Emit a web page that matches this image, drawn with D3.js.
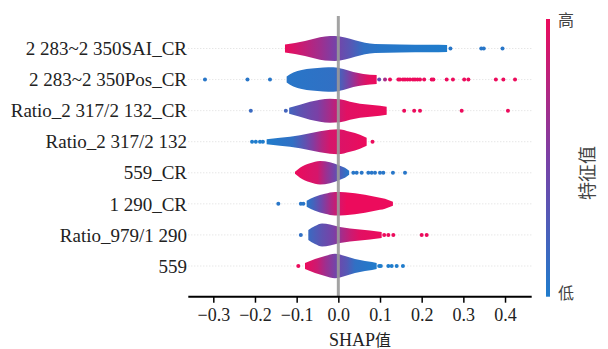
<!DOCTYPE html>
<html>
<head>
<meta charset="utf-8">
<script src="https://cdn.jsdelivr.net/npm/d3@7"></script>
<style>
  body { margin: 0; background: #fff; }
  svg { display: block; }
</style>
</head>
<body>
<svg id="chart" width="608" height="349"></svg>
<script>
// Features, top to bottom
const features = [
  '2 283~2 350SAI_CR',
  '2 283~2 350Pos_CR',
  'Ratio_2 317/2 132_CR',
  'Ratio_2 317/2 132',
  '559_CR',
  '1 290_CR',
  'Ratio_979/1 290',
  '559'
];

const xTicks = [-0.3, -0.2, -0.1, 0.0, 0.1, 0.2, 0.3, 0.4];

// violin outline: [shap value, relative density]
const violinSAI = [[-0.128,0.32],[-0.104,0.44],[-0.080,0.6],[-0.056,0.8],[-0.032,0.96],[-0.008,1.0],[0.016,0.88],[0.040,0.66],[0.064,0.46],[0.088,0.36],[0.148,0.32],[0.220,0.30],[0.261,0.28]];
const violinPos = [[-0.124,0.24],[-0.108,0.56],[-0.088,0.76],[-0.064,0.88],[-0.036,0.96],[-0.012,0.98],[0.012,0.84],[0.036,0.6],[0.060,0.45],[0.092,0.36]];
const violinRatioCR = [[-0.118,0.24],[-0.092,0.48],[-0.068,0.72],[-0.044,0.88],[-0.020,0.96],[0.004,0.92],[0.028,0.72],[0.052,0.56],[0.076,0.48],[0.100,0.4],[0.116,0.32]];
const violinRatio = [[-0.172,0.2],[-0.140,0.32],[-0.116,0.4],[-0.092,0.52],[-0.068,0.68],[-0.044,0.84],[-0.020,0.96],[-0.001,1.0],[0.028,0.8],[0.052,0.56],[0.068,0.32]];
const violin559CR = [[-0.104,0.08],[-0.092,0.4],[-0.068,0.76],[-0.044,0.94],[-0.020,0.84],[0.004,0.56],[0.016,0.4],[0.026,0.16]];
const violin1290CR = [[-0.076,0.24],[-0.056,0.56],[-0.032,0.8],[-0.008,0.94],[0.016,0.92],[0.040,0.84],[0.064,0.72],[0.088,0.56],[0.112,0.4],[0.131,0.16]];
const violin979 = [[-0.072,0.4],[-0.056,0.72],[-0.039,0.92],[-0.020,0.84],[0.004,0.64],[0.028,0.52],[0.052,0.44],[0.076,0.36],[0.104,0.24]];
const violin559 = [[-0.080,0.24],[-0.056,0.56],[-0.032,0.8],[-0.008,0.98],[0.016,0.8],[0.040,0.56],[0.064,0.4],[0.081,0.32],[0.092,0.24]];

// mean feature value along shap axis: [shap value, feature value 0..1]
const colorSAI = [[-0.128,1.0],[-0.09,0.85],[-0.04,0.65],[-0.01,0.5],[0.03,0.3],[0.06,0.1],[0.1,0.05],[0.261,0.0]];
const colorPos = [[-0.124,0.05],[-0.01,0.1],[0.01,0.3],[0.03,0.55],[0.05,0.8],[0.07,0.95],[0.092,1.0]];
const colorRatioCR = [[-0.118,0.2],[-0.09,0.35],[-0.05,0.5],[-0.02,0.7],[0.0,0.85],[0.02,0.95],[0.116,1.0]];
const colorRatio = [[-0.172,0.0],[-0.11,0.1],[-0.08,0.35],[-0.06,0.55],[-0.04,0.75],[-0.02,0.9],[0.068,1.0]];
const color559CR = [[-0.104,1.0],[-0.05,0.9],[-0.03,0.65],[-0.01,0.45],[0.005,0.25],[0.02,0.08],[0.026,0.05]];
const color1290CR = [[-0.076,0.05],[-0.06,0.2],[-0.04,0.45],[-0.02,0.7],[0.0,0.9],[0.02,1.0],[0.131,1.0]];
const color979 = [[-0.072,0.15],[-0.04,0.35],[-0.01,0.5],[0.01,0.7],[0.03,0.85],[0.05,0.95],[0.104,1.0]];
const color559 = [[-0.08,1.0],[-0.05,0.85],[-0.03,0.65],[-0.005,0.45],[0.02,0.3],[0.04,0.1],[0.092,0.0]];

// outlier points: [shap value, feature value]
const dotsSAI = [[0.269,0.05],[0.343,0.05],[0.349,0.05],[0.394,0.05]];
const dotsPos = [[-0.320,0.05],[-0.218,0.05],[-0.164,0.05],[0.098,0.4],[0.112,0.7],[0.124,1],[0.144,1],[0.148,1],[0.155,1],[0.160,1],[0.166,1],[0.172,1],[0.179,1],[0.184,1],[0.190,1],[0.196,1],[0.206,1],[0.224,1],[0.228,1],[0.260,1],[0.275,1],[0.302,1],[0.312,1],[0.378,1],[0.396,1],[0.424,1]];
const dotsRatioCR = [[-0.210,0.15],[-0.126,0.2],[0.158,1],[0.182,1],[0.196,1],[0.296,1],[0.407,1]];
const dotsRatio = [[-0.207,0.0],[-0.198,0.0],[-0.188,0.0],[-0.181,0.0],[0.082,1]];
const dots559CR = [[0.036,0.05],[0.044,0.05],[0.056,0.05],[0.072,0.05],[0.080,0.05],[0.088,0.05],[0.100,0.05],[0.108,0.05],[0.131,0.05],[0.160,0.05]];
const dots1290CR = [[-0.144,0.05],[-0.090,0.05],[-0.084,0.05]];
const dots979 = [[-0.090,0.1],[0.110,1],[0.120,1],[0.132,1],[0.200,1],[0.212,1]];
const dots559 = [[-0.096,1],[0.098,0],[0.102,0],[0.120,0],[0.128,0],[0.140,0],[0.155,0]];

const violins = [violinSAI, violinPos, violinRatioCR, violinRatio, violin559CR, violin1290CR, violin979, violin559];
const colorProfiles = [colorSAI, colorPos, colorRatioCR, colorRatio, color559CR, color1290CR, color979, color559];
const outliers = [dotsSAI, dotsPos, dotsRatioCR, dotsRatio, dots559CR, dots1290CR, dots979, dots559];

const svg = d3.select('#chart');
const serif = '"Liberation Serif", "Times New Roman", serif';
const cjk = '"Noto Sans CJK SC", sans-serif';

const x = d3.scaleLinear().domain([-0.36, 0.464]).range([188.3, 531.7]);
const y = d3.scalePoint().domain(features).range([48.5, 266]);
const hw = d3.scaleLinear().domain([0, 1]).range([0, 12.5]);
const color = d3.scaleLinear().domain([0, 0.5, 1])
  .range(['#1f7ccc', '#7a40a6', '#ec0b5c'])
  .interpolate(d3.interpolateRgb);

const axisY = 296.7;

// faint dotted row guides
svg.append('g')
  .selectAll('line')
  .data(features)
  .join('line')
  .attr('x1', x.range()[0])
  .attr('x2', x.range()[1])
  .attr('y1', d => y(d))
  .attr('y2', d => y(d))
  .attr('stroke', '#dcdcdc')
  .attr('stroke-width', 1)
  .attr('stroke-dasharray', '1,2');

const defs = svg.append('defs');

features.forEach((f, i) => {
  const cy = y(f);
  const prof = colorProfiles[i];
  const grad = defs.append('linearGradient')
    .attr('id', 'vg' + i)
    .attr('gradientUnits', 'userSpaceOnUse')
    .attr('x1', x(prof[0][0])).attr('x2', x(prof[prof.length - 1][0]))
    .attr('y1', 0).attr('y2', 0);
  const span = prof[prof.length - 1][0] - prof[0][0];
  grad.selectAll('stop')
    .data(prof)
    .join('stop')
    .attr('offset', d => (d[0] - prof[0][0]) / span)
    .attr('stop-color', d => color(d[1]));

  const area = d3.area()
    .x(d => x(d[0]))
    .y0(d => cy - hw(d[1]))
    .y1(d => cy + hw(d[1]))
    .curve(d3.curveMonotoneX);

  svg.append('path')
    .datum(violins[i])
    .attr('d', area)
    .attr('fill', `url(#vg${i})`);

  svg.append('g')
    .selectAll('circle')
    .data(outliers[i])
    .join('circle')
    .attr('cx', d => x(d[0]))
    .attr('cy', cy)
    .attr('r', 2)
    .attr('fill', d => color(d[1]));
});

// zero line, over the violins
svg.append('line')
  .attr('x1', x(0)).attr('x2', x(0))
  .attr('y1', 16).attr('y2', axisY)
  .attr('stroke', '#999')
  .attr('stroke-opacity', 0.9)
  .attr('stroke-width', 3);

// x axis
const xAxis = svg.append('g')
  .attr('transform', `translate(0,${axisY})`)
  .call(d3.axisBottom(x).tickValues(xTicks).tickFormat(d3.format('.1f')).tickSize(6).tickPadding(6));
xAxis.select('.domain').attr('stroke', '#000').attr('stroke-width', 2).attr('d', `M${x.range()[0]},0H${x.range()[1]}`);
xAxis.selectAll('.tick line').attr('stroke', '#000').attr('stroke-width', 1.5);
xAxis.selectAll('.tick text')
  .attr('fill', '#222')
  .attr('font-family', serif)
  .attr('font-size', 18);

svg.append('text')
  .attr('x', 360)
  .attr('y', 345.5)
  .attr('text-anchor', 'middle')
  .attr('fill', '#222')
  .attr('font-size', 17)
  .call(t => {
    t.append('tspan').attr('font-family', serif).attr('font-size', 18).text('SHAP');
    t.append('tspan').attr('font-family', cjk).attr('font-size', 16).text('值');
  });

// feature labels
svg.append('g')
  .selectAll('text')
  .data(features)
  .join('text')
  .attr('x', 187)
  .attr('y', d => y(d))
  .attr('dy', '0.35em')
  .attr('text-anchor', 'end')
  .attr('fill', '#222')
  .attr('font-family', serif)
  .attr('font-size', 19)
  .text(d => d);

// colour bar
const cbGrad = defs.append('linearGradient')
  .attr('id', 'cb')
  .attr('x1', 0).attr('x2', 0).attr('y1', 1).attr('y2', 0);
cbGrad.selectAll('stop')
  .data([0, 0.25, 0.5, 0.75, 1])
  .join('stop')
  .attr('offset', d => d)
  .attr('stop-color', d => color(d));

svg.append('rect')
  .attr('x', 546).attr('y', 19)
  .attr('width', 4).attr('height', axisY - 19)
  .attr('fill', 'url(#cb)');

svg.append('text')
  .attr('x', 558).attr('y', 20).attr('dy', '0.36em')
  .attr('font-family', cjk).attr('font-size', 16).attr('fill', '#444')
  .text('高');
svg.append('text')
  .attr('x', 558).attr('y', 293).attr('dy', '0.36em')
  .attr('font-family', cjk).attr('font-size', 16).attr('fill', '#444')
  .text('低');
svg.append('text')
  .attr('transform', 'translate(588,173) rotate(-90)')
  .attr('text-anchor', 'middle')
  .attr('dy', '0.36em')
  .attr('font-family', cjk).attr('font-size', 18).attr('fill', '#444')
  .text('特征值');
</script>
</body>
</html>
